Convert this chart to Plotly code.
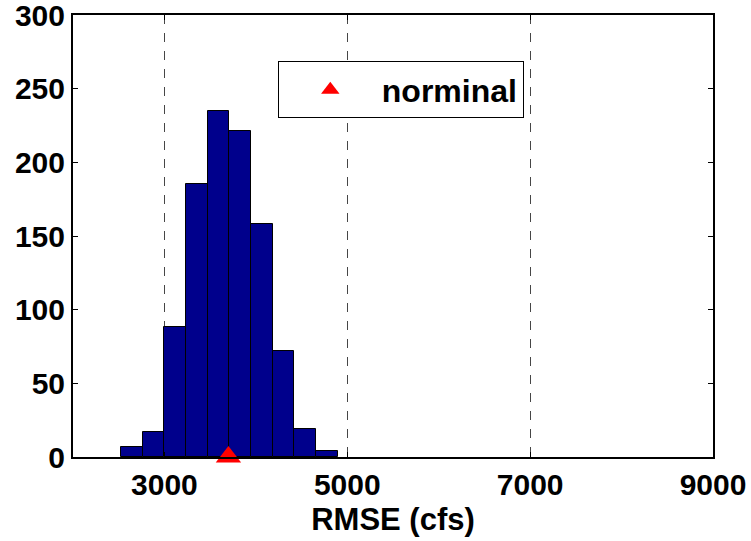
import plotly.graph_objects as go

# Histogram data (RMSE, cfs)
bin_centers = [2645, 2882, 3119, 3355, 3592, 3829, 4066, 4302, 4539, 4776]
bin_width = 236.7
counts = [7, 17, 88, 185, 235, 221, 158, 72, 19, 4]

nominal_x = [3700]
nominal_y = [0]

x_ticks = [3000, 5000, 7000, 9000]
y_ticks = [0, 50, 100, 150, 200, 250, 300]

FONT = "Liberation Sans, Arial, sans-serif"

fig = go.Figure()
fig.add_trace(go.Bar(
    x=bin_centers, y=counts, width=[bin_width] * len(bin_centers),
    marker=dict(color="#00008C", line=dict(color="black", width=1)),
    showlegend=False, hoverinfo="x+y",
))
fig.add_trace(go.Scatter(
    x=nominal_x, y=nominal_y, mode="markers", name="norminal",
    marker=dict(symbol="triangle-up", size=22, color="red"),
    cliponaxis=False,
))

fig.update_layout(
    width=751, height=541,
    margin=dict(l=73, r=38, t=15, b=84),
    paper_bgcolor="white", plot_bgcolor="white",
    font=dict(family=FONT, size=30, color="black", weight="bold"),
    bargap=0,
    legend=dict(
        x=0.32, y=0.895, xanchor="left", yanchor="top",
        bgcolor="white", bordercolor="black", borderwidth=1,
        font=dict(family=FONT, size=32, color="black", weight="bold"),
        itemwidth=93,
    ),
    xaxis=dict(
        range=[2000, 9000], tickmode="array", tickvals=x_ticks,
        ticks="inside", ticklen=5, tickcolor="black",
        showline=True, linecolor="black", linewidth=2, mirror="ticks",
        showgrid=True, gridcolor="rgb(70,70,70)", griddash="dash", gridwidth=1,
        zeroline=False, automargin=False, ticklabeloverflow="allow",
        tickfont=dict(family=FONT, size=30, color="black", weight="bold"),
        title=dict(text="RMSE (cfs)", standoff=8,
                   font=dict(family=FONT, size=31, color="black", weight="bold")),
    ),
    yaxis=dict(
        range=[0, 300], tickmode="array", tickvals=y_ticks,
        ticks="inside", ticklen=5, tickcolor="black",
        showline=True, linecolor="black", linewidth=2, mirror="ticks",
        showgrid=False, zeroline=False, automargin=False, ticklabeloverflow="allow",
        tickfont=dict(family=FONT, size=30, color="black", weight="bold"),
    ),
)

fig.write_html("out.html")
